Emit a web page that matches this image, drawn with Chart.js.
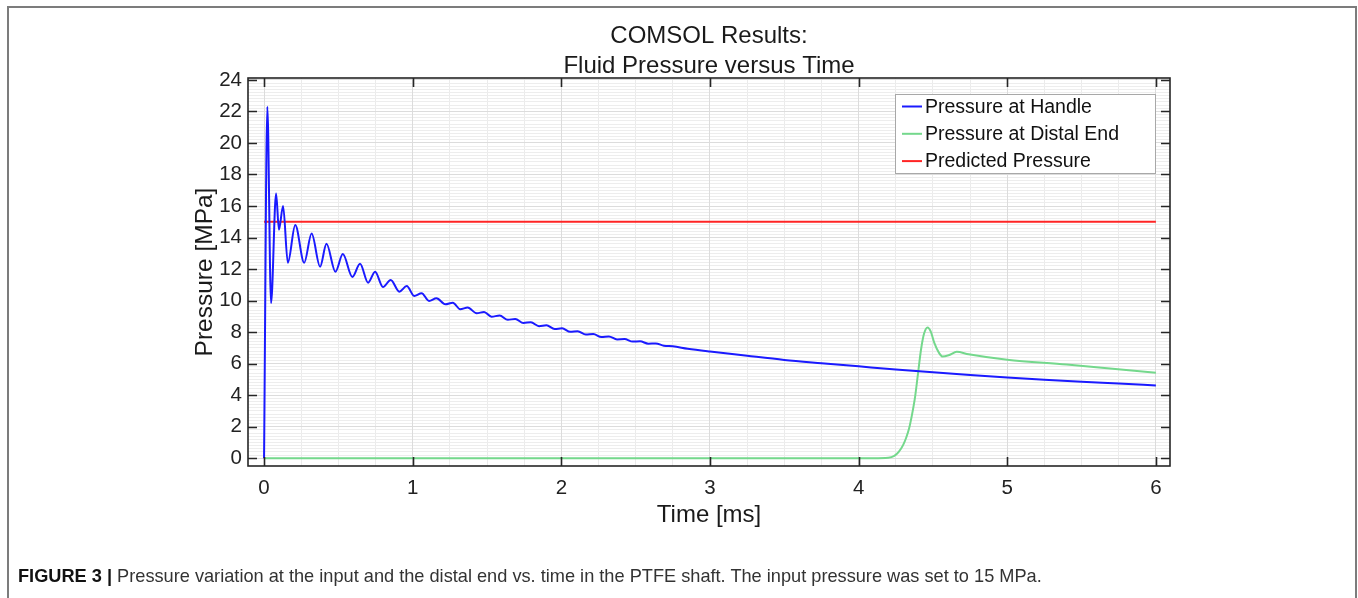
<!DOCTYPE html>
<html>
<head>
<meta charset="utf-8">
<script src="https://cdn.jsdelivr.net/npm/chart.js@4.4.1/dist/chart.umd.min.js"></script>
<style>
  html, body { margin: 0; padding: 0; background: #fff; }
  body { width: 1358px; height: 598px; position: relative; overflow: hidden; font-family: "Liberation Sans", Arial, sans-serif; }
  #frame { position: absolute; left: 7px; top: 6px; width: 1346px; height: 620px; border: 2px solid #7c7c7c; border-bottom: none; }
  #plot { position: absolute; left: 0; top: 0; }
  #caption { position: absolute; left: 18px; top: 566px; font-family: "Liberation Sans Narrow", "Liberation Sans", Arial, sans-serif; font-size: 18.2px; color: #333; white-space: nowrap; line-height: 20px; }
  #caption b { color: #111; }
</style>
</head>
<body>
<div id="frame"></div>
<canvas id="plot" width="1358" height="598"></canvas>
<div id="caption"><b>FIGURE 3 |</b> Pressure variation at the input and the distal end vs. time in the PTFE shaft. The input pressure was set to 15 MPa.</div>
<script>
// pressure at handle
const handleTime = [0, 0.022, 0.047, 0.081, 0.100, 0.128, 0.160, 0.210, 0.270, 0.320,
  0.377, 0.420, 0.480, 0.530, 0.594, 0.646, 0.700, 0.747, 0.800, 0.852,
  0.910, 0.960, 1.010, 1.060, 1.110, 1.160, 1.220, 1.270, 1.320, 1.370,
  1.430, 1.480, 1.530, 1.585, 1.640, 1.690, 1.745, 1.795, 1.850, 1.900,
  1.955, 2.005, 2.060, 2.110, 2.165, 2.215, 2.270, 2.320, 2.375, 2.425,
  2.480, 2.530, 2.585, 2.635, 2.690, 2.750, 2.850, 3.000, 3.250, 3.500,
  3.750, 4.000, 4.250, 4.500, 4.750, 5.000, 5.250, 5.500, 5.750, 6.000];
const handlePressure = [0, 22.3, 9.85, 16.8, 14.5, 16.0, 12.4, 14.8, 12.4, 14.25,
  12.15, 13.6, 11.83, 12.95, 11.5, 12.34, 11.14, 11.83, 10.86, 11.31,
  10.57, 10.93, 10.30, 10.47, 9.98, 10.15, 9.77, 9.87, 9.45, 9.56,
  9.20, 9.28, 8.98, 9.05, 8.78, 8.84, 8.58, 8.63, 8.38, 8.43,
  8.20, 8.24, 8.02, 8.06, 7.85, 7.88, 7.69, 7.72, 7.54, 7.56,
  7.40, 7.42, 7.27, 7.28, 7.14, 7.10, 6.95, 6.77, 6.50, 6.24,
  6.03, 5.83, 5.63, 5.45, 5.28, 5.12, 4.98, 4.85, 4.74, 4.62];

// pressure at distal end
const distalTime = [0, 4.10, 4.20, 4.24, 4.27, 4.30, 4.32, 4.34, 4.36, 4.38, 4.40, 4.42, 4.44, 4.464, 4.485, 4.51, 4.54, 4.565, 4.61, 4.66, 4.74, 5.00, 5.40, 6.00];
const distalPressure = [0, 0, 0.03, 0.15, 0.4, 0.85, 1.3, 1.9, 2.8, 3.9, 5.4, 6.9, 7.9, 8.3, 8.05, 7.3, 6.7, 6.45, 6.55, 6.75, 6.6, 6.25, 5.95, 5.42];

// predicted pressure
const predictedTime = [0, 6];
const predictedPressure = [15, 15];

const xTicks = [0, 1, 2, 3, 4, 5, 6];
const yTicks = [0, 2, 4, 6, 8, 10, 12, 14, 16, 18, 20, 22, 24];
const titleLines = ['COMSOL Results:', 'Fluid Pressure versus Time'];

const pts = (xs, ys) => xs.map((t, i) => ({ x: t, y: ys[i] }));
const FONT = '"Liberation Sans", Arial, sans-serif';
const XMIN = -0.108, XMAX = 6.095, YMIN = -0.49, YMAX = 24.12;

// box round the axes, with inward ticks on every side
const boxTicks = {
  id: 'boxTicks',
  afterDatasetsDraw(chart) {
    const { ctx, chartArea: a, scales: { x, y } } = chart;
    ctx.save();
    ctx.strokeStyle = '#262626';
    ctx.lineWidth = 1.6;
    ctx.strokeRect(a.left, a.top, a.right - a.left, a.bottom - a.top);
    ctx.beginPath();
    xTicks.forEach(v => {
      const px = Math.round(x.getPixelForValue(v)) + 0.5;
      ctx.moveTo(px, a.bottom); ctx.lineTo(px, a.bottom - 9);
      ctx.moveTo(px, a.top); ctx.lineTo(px, a.top + 9);
    });
    yTicks.forEach(v => {
      const py = Math.round(y.getPixelForValue(v)) + 0.5;
      ctx.moveTo(a.left, py); ctx.lineTo(a.left + 9, py);
      ctx.moveTo(a.right, py); ctx.lineTo(a.right - 9, py);
    });
    ctx.stroke();
    ctx.restore();
  }
};

// two-line title centred on the plot
const plotTitle = {
  id: 'plotTitle',
  afterDraw(chart) {
    const { ctx, chartArea: a } = chart;
    ctx.save();
    ctx.fillStyle = '#1a1a1a';
    ctx.font = '24px ' + FONT;
    ctx.textAlign = 'center';
    ctx.textBaseline = 'middle';
    const cx = (a.left + a.right) / 2;
    titleLines.forEach((t, i) => ctx.fillText(t, cx, 36 + i * 30));
    ctx.restore();
  }
};

// legend box inside the top right corner
const boxLegend = {
  id: 'boxLegend',
  afterDraw(chart) {
    const { ctx, chartArea: a } = chart;
    const w = 260, h = 79;
    const bx = a.right - 15 - w, by = a.top + 16;
    ctx.save();
    ctx.fillStyle = '#fff';
    ctx.fillRect(bx, by, w, h);
    ctx.strokeStyle = '#a8a8a8';
    ctx.lineWidth = 1;
    ctx.strokeRect(bx + 0.5, by + 0.5, w, h);
    ctx.font = '19.5px ' + FONT;
    ctx.textBaseline = 'middle';
    chart.data.datasets.forEach((ds, i) => {
      const ry = by + 12.5 + i * 27.3;
      ctx.strokeStyle = ds.borderColor;
      ctx.lineWidth = 2;
      ctx.beginPath();
      ctx.moveTo(bx + 7, ry); ctx.lineTo(bx + 27, ry);
      ctx.stroke();
      ctx.fillStyle = '#111';
      ctx.fillText(ds.label, bx + 30, ry + 1);
    });
    ctx.restore();
  }
};

function stepTicks(from, to, step) {
  const out = [];
  for (let v = from; v <= to + 1e-9; v += step) out.push({ value: +v.toFixed(4) });
  return out;
}

new Chart(document.getElementById('plot'), {
  type: 'line',
  data: {
    datasets: [
      { label: 'Pressure at Handle', data: pts(handleTime, handlePressure), borderColor: '#1a1aff', borderWidth: 2, cubicInterpolationMode: 'monotone' },
      { label: 'Pressure at Distal End', data: pts(distalTime, distalPressure), borderColor: '#74d88c', borderWidth: 2, cubicInterpolationMode: 'monotone' },
      { label: 'Predicted Pressure', data: pts(predictedTime, predictedPressure), borderColor: '#ff2424', borderWidth: 2 }
    ]
  },
  options: {
    responsive: false,
    animation: false,
    devicePixelRatio: 1,
    elements: { point: { radius: 0 } },
    layout: { padding: { left: 0, right: 188, top: 78, bottom: 62 } },
    plugins: { legend: { display: false }, title: { display: false }, tooltip: { enabled: false } },
    scales: {
      xMinor: {
        type: 'linear', position: 'bottom', min: XMIN, max: XMAX,
        afterBuildTicks: s => { s.ticks = stepTicks(0, 6, 0.25); },
        ticks: { display: false },
        border: { display: false },
        grid: { color: '#ebebeb', lineWidth: 1, drawTicks: false },
        afterFit: s => { s.height = 0; }
      },
      yMinor: {
        type: 'linear', position: 'left', min: YMIN, max: YMAX,
        afterBuildTicks: s => { s.ticks = stepTicks(0, 24, 0.2); },
        ticks: { display: false },
        border: { display: false },
        grid: { color: '#ededed', lineWidth: 1, drawTicks: false },
        afterFit: s => { s.width = 0; }
      },
      x: {
        type: 'linear', position: 'bottom', min: XMIN, max: XMAX,
        afterBuildTicks: s => { s.ticks = xTicks.map(v => ({ value: v })); },
        ticks: { padding: 10, color: '#222', font: { family: FONT, size: 20.5 }, maxRotation: 0 },
        border: { display: false },
        grid: { color: '#dcdcdc', lineWidth: 1, drawTicks: false },
        title: { display: true, text: 'Time [ms]', color: '#1a1a1a', font: { family: FONT, size: 24 }, padding: { top: 0, bottom: 6 } },
        afterFit: s => { s.height = 70; }
      },
      y: {
        type: 'linear', position: 'left', min: YMIN, max: YMAX,
        afterBuildTicks: s => { s.ticks = yTicks.map(v => ({ value: v })); },
        ticks: { padding: 6, color: '#222', font: { family: FONT, size: 20.5 } },
        border: { display: false },
        grid: { color: '#dcdcdc', lineWidth: 1, drawTicks: false },
        title: { display: true, text: 'Pressure [MPa]', color: '#1a1a1a', font: { family: FONT, size: 24.5 }, padding: { top: 191, bottom: 0 } },
        afterFit: s => { s.width = 248; }
      }
    }
  },
  plugins: [boxTicks, plotTitle, boxLegend]
});
</script>
</body>
</html>
